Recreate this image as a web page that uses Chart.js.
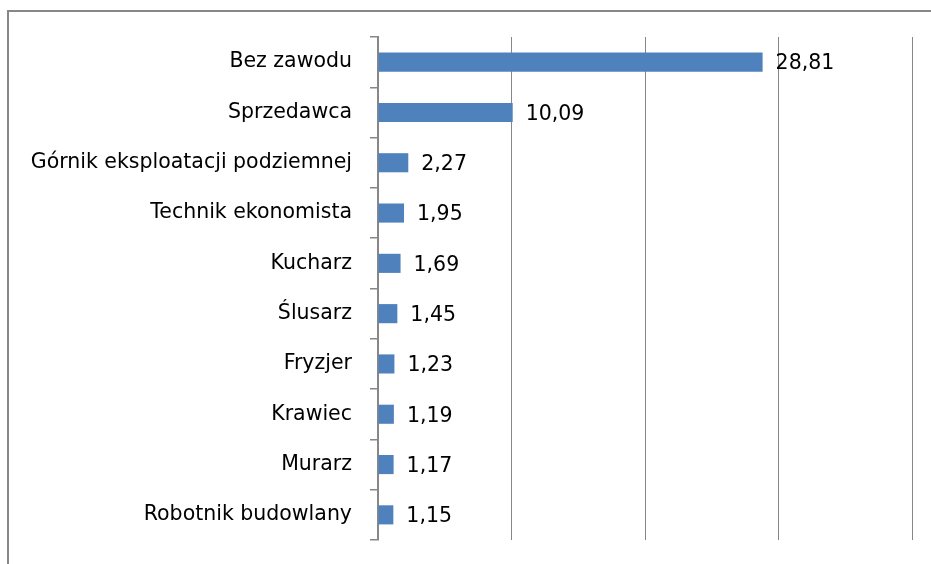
<!DOCTYPE html>
<html>
<head>
<meta charset="utf-8">
<script src="https://cdn.jsdelivr.net/npm/chart.js@4"></script>
<style>
  html, body { margin: 0; padding: 0; width: 931px; height: 564px; overflow: hidden; background: #fff; }
  #frame { position: absolute; left: 7px; top: 10px; width: 1200px; height: 1000px; border: 2px solid #878787; }
  #c { position: absolute; left: 0; top: 0; }
</style>
</head>
<body>
<div id="frame"></div>
<canvas id="c" width="931" height="564"></canvas>
<script>
const categories = ['Bez zawodu', 'Sprzedawca', 'Górnik eksploatacji podziemnej', 'Technik ekonomista', 'Kucharz', 'Ślusarz', 'Fryzjer', 'Krawiec', 'Murarz', 'Robotnik budowlany'];
const values = [28.81, 10.09, 2.27, 1.95, 1.69, 1.45, 1.23, 1.19, 1.17, 1.15];
const xMin = 0, xMax = 40, xStep = 10;

const FONT = '"DejaVu Sans", sans-serif';
const fmt = v => v.toFixed(2).replace('.', ',');

const valueLabels = {
  id: 'valueLabels',
  afterDatasetsDraw(chart) {
    const ctx = chart.ctx;
    const meta = chart.getDatasetMeta(0);
    ctx.save();
    ctx.font = '20.5px ' + FONT;
    ctx.fillStyle = '#000';
    ctx.textAlign = 'left';
    ctx.textBaseline = 'middle';
    meta.data.forEach((el, i) => {
      ctx.fillText(fmt(chart.data.datasets[0].data[i]), el.x + 13, el.y + 2);
    });
    ctx.restore();
  }
};

new Chart(document.getElementById('c'), {
  type: 'bar',
  data: {
    labels: categories,
    datasets: [{
      data: values,
      backgroundColor: '#4F81BD',
      borderWidth: 0,
      categoryPercentage: 1,
      barPercentage: 0.38
    }]
  },
  options: {
    indexAxis: 'y',
    responsive: false,
    animation: false,
    devicePixelRatio: 1,
    layout: { padding: { left: 0, right: 19, top: 37, bottom: 24 } },
    plugins: { legend: { display: false }, tooltip: { enabled: false } },
    scales: {
      x: {
        min: xMin, max: xMax,
        ticks: { display: false, stepSize: xStep },
        grid: { color: '#878787', lineWidth: 1, drawTicks: false },
        border: { display: false },
        afterFit(scale) { scale.height = 0; scale.paddingLeft = 0; scale.paddingRight = 0; }
      },
      y: {
        ticks: { color: '#000', padding: 18, font: { family: FONT, size: 20.5 } },
        grid: { drawOnChartArea: false, drawTicks: true, tickLength: 8, color: '#878787', lineWidth: 1.5 },
        border: { color: '#878787', width: 2 },
        afterFit(scale) { scale.width = 378; scale.paddingTop = 0; scale.paddingBottom = 0; }
      }
    }
  },
  plugins: [valueLabels]
});
</script>
</body>
</html>
